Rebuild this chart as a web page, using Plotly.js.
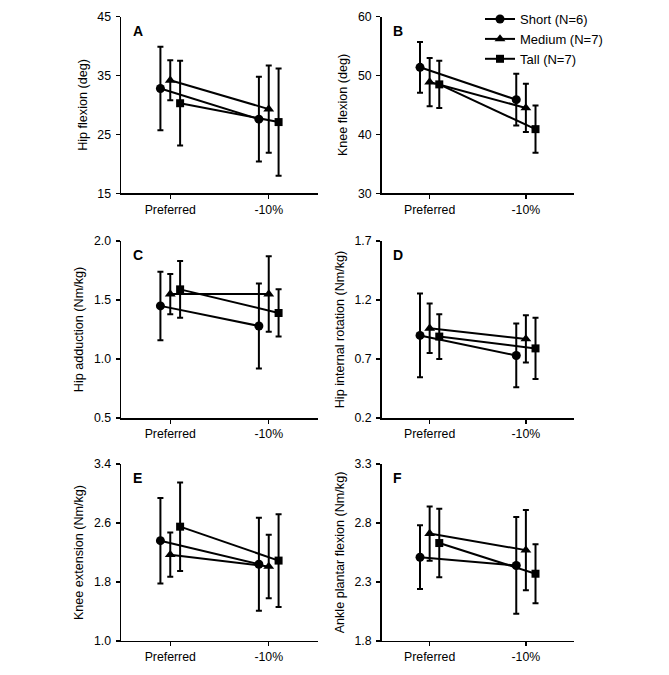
<!DOCTYPE html>
<html>
<head>
<meta charset="utf-8">
<script src="https://cdn.plot.ly/plotly-3.0.1.min.js"></script>
<style>
  html, body { margin: 0; padding: 0; background: #fff; }
  #chart { width: 669px; height: 675px; }
</style>
</head>
<body>
<div id="chart"></div>
<script>
// ---------------- DATA ----------------
const conditions = ['Preferred', '-10%'];
const groups = ['Short (N=6)', 'Medium (N=7)', 'Tall (N=7)'];
const panelLetters = ['A', 'B', 'C', 'D', 'E', 'F'];
const yTitles = [
  'Hip flexion (deg)',
  'Knee flexion (deg)',
  'Hip adduction (Nm/kg)',
  'Hip internal rotation (Nm/kg)',
  'Knee extension (Nm/kg)',
  'Ankle plantar flexion (Nm/kg)'
];

// mean values per group [Short, Medium, Tall], each [Preferred, -10%]
const hipFlexionMean = [[32.8, 27.6], [34.2, 29.3], [30.3, 27.1]];
const hipFlexionSD   = [[7.1, 7.2], [3.4, 7.4], [7.2, 9.1]];

const kneeFlexionMean = [[51.4, 45.9], [48.9, 44.5], [48.5, 40.9]];
const kneeFlexionSD   = [[4.3, 4.4], [4.1, 4.1], [4.0, 4.0]];

const hipAdductionMean = [[1.45, 1.28], [1.55, 1.55], [1.59, 1.39]];
const hipAdductionSD   = [[0.29, 0.36], [0.17, 0.32], [0.24, 0.20]];

const hipIntRotMean = [[0.90, 0.73], [0.96, 0.87], [0.89, 0.79]];
const hipIntRotSD   = [[0.355, 0.27], [0.21, 0.20], [0.19, 0.26]];

const kneeExtensionMean = [[2.36, 2.04], [2.17, 2.01], [2.55, 2.09]];
const kneeExtensionSD   = [[0.58, 0.63], [0.30, 0.43], [0.60, 0.63]];

const anklePFMean = [[2.51, 2.44], [2.71, 2.57], [2.63, 2.37]];
const anklePFSD   = [[0.27, 0.41], [0.23, 0.34], [0.29, 0.25]];

const yRanges = [[15, 45], [30, 60], [0.5, 2.0], [0.2, 1.7], [1.0, 3.4], [1.8, 3.3]];
const yDticks = [10, 10, 0.5, 0.5, 0.8, 0.5];
const yFormats = ['d', 'd', '.1f', '.1f', '.1f', '.1f'];

// ---------------- STYLE ----------------
const means = [hipFlexionMean, kneeFlexionMean, hipAdductionMean, hipIntRotMean, kneeExtensionMean, anklePFMean];
const sds = [hipFlexionSD, kneeFlexionSD, hipAdductionSD, hipIntRotSD, kneeExtensionSD, anklePFSD];
const seriesOffset = [-0.1, 0, 0.1];
const symbols = ['circle', 'triangle-up', 'square'];
const symbolSizes = [9, 9.5, 8];
const FONT = 'Liberation Sans, Arial, sans-serif';

const colDomains = [[0.1809, 0.4753], [0.5703, 0.858]];
const rowDomains = [[0.7136, 0.9753], [0.3807, 0.643], [0.0504, 0.3126]];

const traces = [];
const layout = {
  width: 669, height: 675,
  margin: { l: 0, r: 0, t: 0, b: 0 },
  paper_bgcolor: '#fff', plot_bgcolor: '#fff',
  font: { family: FONT, size: 12, color: '#000' },
  showlegend: true,
  legend: {
    x: 0.7175, y: 0.994, xanchor: 'left', yanchor: 'top',
    bgcolor: 'rgba(0,0,0,0)', font: { family: FONT, size: 13, color: '#000' },
    tracegroupgap: 0, itemwidth: 30
  },
  annotations: []
};

for (let p = 0; p < 6; p++) {
  const sfx = p === 0 ? '' : String(p + 1);
  const col = p % 2, row = Math.floor(p / 2);
  for (let s = 0; s < groups.length; s++) {
    traces.push({
      type: 'scatter', mode: 'lines+markers',
      name: groups[s], legendgroup: groups[s],
      showlegend: p === 0,
      x: conditions.map((c, i) => i + seriesOffset[s]),
      y: means[p][s],
      error_y: { type: 'data', array: sds[p][s], visible: true, color: '#000', thickness: 2, width: 3 },
      line: { color: '#000', width: 2 },
      marker: { color: '#000', symbol: symbols[s], size: symbolSizes[s] },
      xaxis: 'x' + sfx, yaxis: 'y' + sfx,
      cliponaxis: false
    });
  }
  layout['xaxis' + sfx] = {
    domain: colDomains[col], anchor: 'y' + sfx,
    range: [-0.5, 1.5], tickmode: 'array',
    tickvals: conditions.map((c, i) => i), ticktext: conditions,
    showgrid: false, zeroline: false, showline: true, linecolor: '#000', linewidth: 1.5,
    ticks: 'outside', ticklen: 4, tickwidth: 1.5, tickcolor: '#000',
    ticklabelstandoff: 0,
    tickfont: { family: FONT, size: 12.3, color: '#000' }
  };
  layout['yaxis' + sfx] = {
    domain: rowDomains[row], anchor: 'x' + sfx,
    range: yRanges[p], dtick: yDticks[p], tick0: yRanges[p][0], tickformat: yFormats[p],
    showgrid: false, zeroline: false, showline: true, linecolor: '#000', linewidth: 1.5,
    ticks: 'outside', ticklen: 4, tickwidth: 1.5, tickcolor: '#000',
    ticklabelstandoff: 2,
    tickfont: { family: FONT, size: 12.3, color: '#000' },
    title: { text: yTitles[p], font: { family: FONT, size: 12.6, color: '#000' }, standoff: 7 }
  };
  layout.annotations.push({
    xref: 'x' + sfx + ' domain', yref: 'y' + sfx + ' domain',
    x: 0.05, y: 0.92, xanchor: 'left', yanchor: 'middle',
    text: '<b>' + panelLetters[p] + '</b>', showarrow: false,
    font: { family: FONT, size: 14, color: '#000' }
  });
}

Plotly.newPlot('chart', traces, layout, { staticPlot: true, displayModeBar: false });
</script>
</body>
</html>
